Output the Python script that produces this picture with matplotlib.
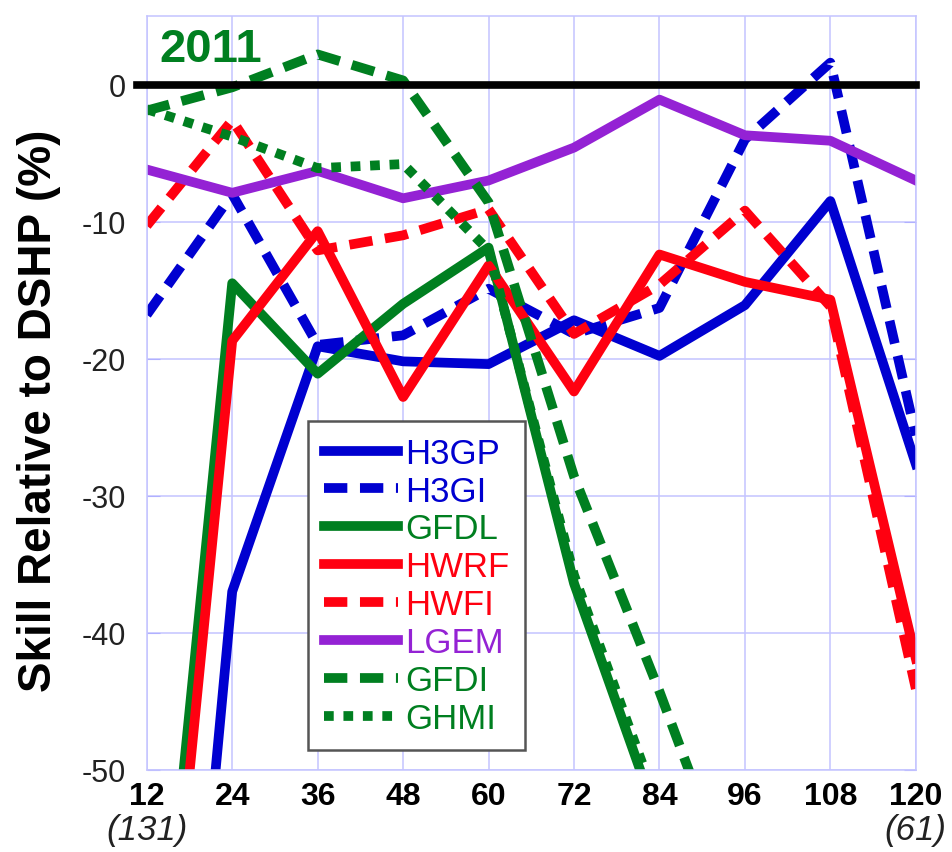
import numpy as np
import matplotlib
matplotlib.use('Agg')
import matplotlib.pyplot as plt

plt.rcParams['font.family'] = ['Liberation Sans', 'DejaVu Sans']

# forecast lead time (h) and skill vs DSHP (%)
leads = [12, 24, 36, 48, 60, 72, 84, 96, 108, 120]
nan = np.nan
h3gp = [-104, -37.0, -19.1, -20.2, -20.4, -17.2, -19.8, -16.1, -8.5, -27.7]
h3gi = [-16.8, -8.0, -19.0, -18.3, -14.9, -18.2, -16.3, -4.0, 1.6, -25.6]
gfdl = [-77, -14.5, -21.1, -16.0, -11.9, -36.4, -54, nan, nan, nan]
hwrf = [-81.7, -18.7, -10.7, -22.8, -13.2, -22.4, -12.4, -14.4, -15.7, -41.9]
hwfi = [-10.3, -2.6, -12.1, -11.0, -9.1, -18.2, -14.6, -9.2, -16.2, -44.1]
lgem = [-6.2, -7.9, -6.3, -8.3, -7.0, -4.6, -1.1, -3.7, -4.1, -7.0]
gfdi = [-1.9, -0.2, 2.2, 0.3, -8.6, -28.6, -44.3, -61, nan, nan]
ghmi = [-1.8, -3.8, -6.1, -5.8, -12.1, -35.8, -53, nan, nan, nan]
cases_first, cases_last = '(131)', '(61)'

blue = '#0000d0'
green = '#007f20'
red = '#ff0010'
purple = '#9422d4'
dash = (2.4, 1.3)
dot = (1.0, 1.0)

fig = plt.figure(figsize=(9.53, 8.53), dpi=100)
ax = fig.add_axes([0.154, 0.0965, 0.807, 0.8835])

lw = 7
ax.plot(leads, h3gp, color=blue, lw=lw, label='H3GP')
ax.plot(leads, h3gi, color=blue, lw=lw, dashes=dash, label='H3GI')
ax.plot(leads, gfdl, color=green, lw=lw, label='GFDL')
ax.plot(leads, hwrf, color=red, lw=lw, label='HWRF')
ax.plot(leads, hwfi, color=red, lw=lw, dashes=dash, label='HWFI')
ax.plot(leads, lgem, color=purple, lw=lw, label='LGEM')
ax.plot(leads, gfdi, color=green, lw=lw, dashes=dash, label='GFDI')
ax.plot(leads, ghmi, color=green, lw=lw, dashes=dot, label='GHMI')

ax.axhline(0, xmin=-0.013, color='black', lw=5.5, clip_on=False, zorder=5)

ax.set_xlim(12, 120)
ax.set_ylim(-50, 5)
ax.set_xticks(leads)
ax.set_xticklabels([str(v) for v in leads], fontweight='bold', fontsize=23)
yt = [0, -10, -20, -30, -40, -50]
ax.set_yticks(yt)
ax.set_yticklabels([str(v) for v in yt], fontsize=22, color='#222222')
ax.grid(True, color='#c4c4ff', lw=1.1)
ax.set_axisbelow(True)
for s in ax.spines.values():
    s.set_color('#c4c4ff')
    s.set_linewidth(1.1)
ax.tick_params(axis='y', direction='in', length=9, color='#b0b0ff', pad=15,
               right=True)
ax.tick_params(axis='x', direction='in', length=0, pad=8)

ax.set_ylabel('Skill Relative to DSHP (%)', fontsize=33, fontweight='bold')
ax.yaxis.set_label_coords(-0.112, 0.478)

ax.text(0.017, 0.985, '2011', transform=ax.transAxes, color=green,
        fontsize=34, fontweight='bold', va='top', ha='left')

trans = ax.get_xaxis_transform()
ax.text(leads[0], -0.08, cases_first, transform=trans, ha='center', va='center',
        fontsize=25, style='italic', color='#222222')
ax.text(leads[-1], -0.08, cases_last, transform=trans, ha='center', va='center',
        fontsize=25, style='italic', color='#222222')

leg = ax.legend(loc='upper left', bbox_to_anchor=(0.2095, 0.4626),
                borderaxespad=0, fontsize=25, labelcolor='linecolor',
                handlelength=2.15, handletextpad=0.2, labelspacing=0.14,
                borderpad=0.45, fancybox=False, framealpha=1)
leg.get_frame().set_edgecolor('#555555')
leg.get_frame().set_linewidth(1.8)

fig.savefig('out.png', dpi=100)
